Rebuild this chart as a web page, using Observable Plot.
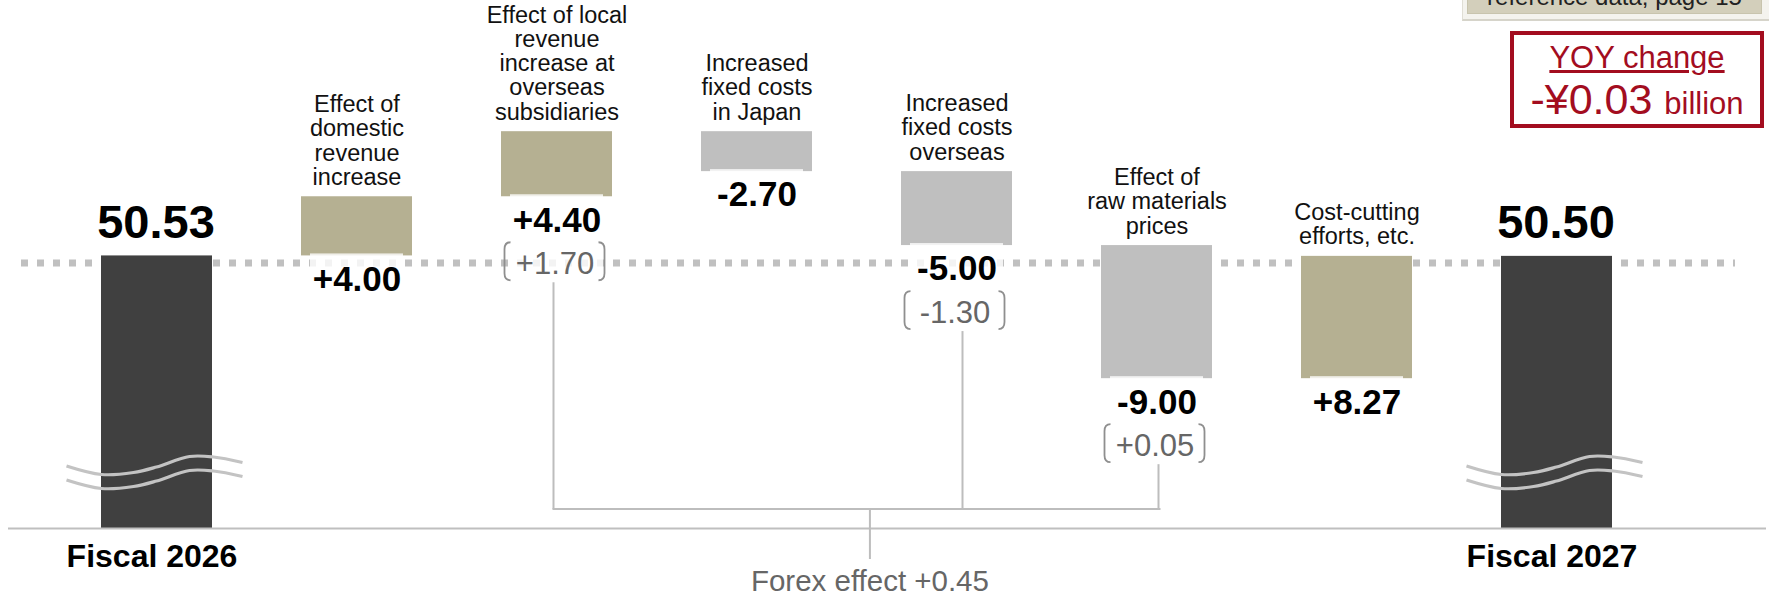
<!DOCTYPE html>
<html>
<head>
<meta charset="utf-8">
<script src="https://cdn.jsdelivr.net/npm/d3@7"></script>
<script src="https://cdn.jsdelivr.net/npm/@observablehq/plot@0.6"></script>
<style>
  body { margin: 0; background: #fff; font-family: "Liberation Sans", Arial, sans-serif; }
  #wrap { position: relative; width: 1769px; height: 597px; overflow: hidden; background: #fff; }
  #wrap svg { display: block; }
  .ref-outer { position: absolute; left: 1462px; top: -20px; width: 306px; height: 38px;
    background: #f4f3ee; border: 1px solid #e0ded5; border-bottom: 2px solid #d6d4ca; box-sizing: content-box; }
  .ref-inner { position: absolute; left: 1467px; top: -20px; width: 295px; height: 34px;
    background: #d3cfbb; border: 1px solid #c8c4ae; box-sizing: border-box; }
  .ref-text { position: absolute; left: 1467px; width: 295px; top: -15px; height: 24px; line-height: 24px;
    font-size: 24px; text-align: center; color: #222; white-space: nowrap; }
  .yoy { position: absolute; left: 1510px; top: 31px; width: 254px; height: 97px;
    border: 4px solid #a30d1f; box-sizing: border-box; color: #a30d1f; background: #fff; }
  .yoy .t1 { position: absolute; left: 0; right: 0; top: 7px; font-size: 31px; line-height: 31px;
    text-align: center; text-decoration: underline; white-space: nowrap; }
  .yoy .t2 { position: absolute; left: 0; right: 0; top: 43px; font-size: 43px; line-height: 43px;
    text-align: center; white-space: nowrap; }
  .yoy .t2 span { font-size: 31px; line-height: 31px; }
</style>
</head>
<body>
<div id="wrap"></div>
<script>
// ---------- data ----------
const categories = ["Fiscal 2026", "Domestic revenue", "Overseas revenue", "Fixed costs Japan",
  "Fixed costs overseas", "Raw materials", "Cost-cutting", "Fiscal 2027"];
const categoryLabels = ["",
  "Effect of\ndomestic\nrevenue\nincrease",
  "Effect of local\nrevenue\nincrease at\noverseas\nsubsidiaries",
  "Increased\nfixed costs\nin Japan",
  "Increased\nfixed costs\noverseas",
  "Effect of\nraw materials\nprices",
  "Cost-cutting\nefforts, etc.",
  ""];
const periodLabels = ["Fiscal 2026", "Fiscal 2027"];
const startValue = 50.53;
const endValue = 50.50;
const deltas = [4.00, 4.40, -2.70, -5.00, -9.00, 8.27];
const forexCategories = ["Overseas revenue", "Fixed costs overseas", "Raw materials"];
const forexValues = [1.70, -1.30, 0.05];
const forexTotal = 0.45;
const yoyChange = -0.03;
const axisFloor = 32.1;   // broken axis: bottom of the chart
const axisTop = 67.8;

// ---------- derived table ----------
const fmt = v => (v > 0 ? "+" : v < 0 ? "-" : "+") + Math.abs(v).toFixed(2);
const palette = {total: "#404040", up: "#b5b092", down: "#bfbfbf"};
let cum = startValue;
const rows = categories.map((cat, i) => {
  if (i === 0) return {cat, y1: axisFloor, y2: startValue, kind: "total", value: startValue.toFixed(2), label: "", period: periodLabels[0]};
  if (i === categories.length - 1) return {cat, y1: axisFloor, y2: endValue, kind: "total", value: endValue.toFixed(2), label: "", period: periodLabels[1]};
  const d = deltas[i - 1];
  const y1 = cum; cum = +(cum + d).toFixed(4);
  return {cat, y1, y2: cum, kind: d >= 0 ? "up" : "down", value: fmt(d), label: categoryLabels[i]};
});
rows.forEach(r => { r.top = Math.max(r.y1, r.y2); r.bottom = Math.min(r.y1, r.y2); r.fill = palette[r.kind];
  const k = forexCategories.indexOf(r.cat); r.fx = k >= 0 ? fmt(forexValues[k]) : null; });
const deltaRows = rows.filter(r => r.kind !== "total");
const totalRows = rows.filter(r => r.kind === "total");
const fxRows = rows.filter(r => r.fx);

// ---------- decorations drawn through the scales ----------
function breakWaves(index, scales) {
  const {x, y} = scales;
  const g = d3.create("svg:g").attr("fill", "none").attr("stroke", "#c3c3c3").attr("stroke-width", 3.2);
  const wave = [[-90, 0], [-55, 8.5], [-23, 6.5], [0, 1], [33, -9.5], [57, -9], [86, -3.5]];
  const line = d3.line().curve(d3.curveCatmullRom);
  for (const r of totalRows) {
    const cx = x(r.cat) + x.bandwidth() / 2, cy = y(axisFloor) - 62;
    for (const off of [0, 14]) g.append("path").attr("d", line(wave.map(([dx, dy]) => [cx + dx, cy + dy + off])));
  }
  return g.node();
}

function forexConnector(index, scales) {
  const {x, y} = scales;
  const g = d3.create("svg:g");
  const base = y(axisFloor) - 19;
  const stemShift = [-1, 8, 4];   // connector drop positions relative to each label
  const xs = [];
  fxRows.forEach((r, i) => {
    const cx = x(r.cat) + x.bandwidth() / 2 - 2;
    const bl = y(r.bottom) + 77;
    const t = bl - 31, b = bl + 7, hw = 50, rr = 7;
    const br = g.append("g").attr("fill", "none").attr("stroke", "#8f8f8f").attr("stroke-width", 1.8);
    br.append("path").attr("d", `M${cx - hw + 6},${t} Q${cx - hw},${t} ${cx - hw},${t + rr} L${cx - hw},${b - rr} Q${cx - hw},${b} ${cx - hw + 6},${b}`);
    br.append("path").attr("d", `M${cx + hw - 6},${t} Q${cx + hw},${t} ${cx + hw},${t + rr} L${cx + hw},${b - rr} Q${cx + hw},${b} ${cx + hw - 6},${b}`);
    const lx = cx + stemShift[i];
    g.append("line").attr("x1", lx).attr("x2", lx).attr("y1", b + 2).attr("y2", base)
      .attr("stroke", "#bdbdbd").attr("stroke-width", 2);
    xs.push(lx);
  });
  const x0 = d3.min(xs), x1 = d3.max(xs);
  g.append("line").attr("x1", x0 - 1).attr("x2", x1 + 2).attr("y1", base).attr("y2", base)
    .attr("stroke", "#bdbdbd").attr("stroke-width", 2);
  const sx = x0 + (x1 - x0) * 0.523;
  g.append("line").attr("x1", sx).attr("x2", sx).attr("y1", base).attr("y2", y(axisFloor) + 31)
    .attr("stroke", "#bdbdbd").attr("stroke-width", 2);
  g.append("text").attr("x", sx).attr("y", y(axisFloor) + 63).attr("text-anchor", "middle")
    .attr("font-size", 29.5).attr("fill", "#666").text(`Forex effect ${fmt(forexTotal)}`);
  return g.node();
}

// ---------- chart ----------
const chart = Plot.plot({
  width: 1769,
  height: 597,
  marginLeft: 0, marginRight: 0, marginTop: 0, marginBottom: 69,
  style: {fontFamily: "'Liberation Sans', Arial, sans-serif", background: "white"},
  x: {domain: categories, range: [56.5, 1656.5], paddingInner: 0.445, paddingOuter: 0.2225, axis: null},
  y: {domain: [axisFloor, axisTop], axis: null},
  color: {type: "identity"},
  marks: [
    Plot.ruleY([startValue], {dy: 7, stroke: "#c0c0c0", strokeWidth: 7, strokeDasharray: "7 9", insetLeft: 21, insetRight: 34}),
    Plot.barY(rows, {x: "cat", y1: "y1", y2: "y2", fill: "fill"}),
    Plot.ruleY([axisFloor], {stroke: "#bfbfbf", strokeWidth: 2, insetLeft: 8, insetRight: 3}),
    breakWaves,
    Plot.barY(deltaRows.filter(r => !r.fx), {x: "cat", y1: "bottom", y2: "bottom", fill: "white", fillOpacity: 0.8,
      insetTop: -2, insetBottom: -42, insetLeft: 9, insetRight: 9}),
    Plot.barY(fxRows, {x: "cat", y1: "bottom", y2: "bottom", fill: "white", fillOpacity: 0.8,
      insetTop: -2, insetBottom: -84, insetLeft: 9, insetRight: 9}),
    forexConnector,
    Plot.text(deltaRows, {x: "cat", y: "top", text: "label", lineAnchor: "bottom", dy: -12,
      fontSize: 23.5, lineHeight: 1.03, fill: "#111"}),
    Plot.text(deltaRows, {x: "cat", y: "bottom", text: "value", lineAnchor: "top", dy: 10,
      fontSize: 35, fontWeight: "bold", fill: "#000"}),
    Plot.text(fxRows, {x: "cat", y: "bottom", text: "fx", lineAnchor: "top", dy: 55, dx: -2,
      fontSize: 31, fill: "#666"}),
    Plot.text(totalRows, {x: "cat", y: "top", text: "value", lineAnchor: "bottom", dy: -18, dx: -1,
      fontSize: 47, fontWeight: "bold", fill: "#000"}),
    Plot.text(totalRows, {x: "cat", y: axisFloor, text: "period", lineAnchor: "top", dy: 16, dx: -5,
      fontSize: 32, fontWeight: "bold", fill: "#000"})
  ]
});

const wrap = document.getElementById("wrap");
wrap.appendChild(chart);

// ---------- annotations (HTML overlay) ----------
const refOuter = document.createElement("div"); refOuter.className = "ref-outer"; wrap.appendChild(refOuter);
const refInner = document.createElement("div"); refInner.className = "ref-inner"; wrap.appendChild(refInner);
const refText = document.createElement("div"); refText.className = "ref-text"; refText.textContent = "reference data, page 15"; wrap.appendChild(refText);

const yoy = document.createElement("div");
yoy.className = "yoy";
const sign = yoyChange < 0 ? "-" : "+";
yoy.innerHTML = `<div class="t1">YOY change</div><div class="t2">${sign}¥${Math.abs(yoyChange).toFixed(2)} <span>billion</span></div>`;
wrap.appendChild(yoy);
</script>
</body>
</html>
